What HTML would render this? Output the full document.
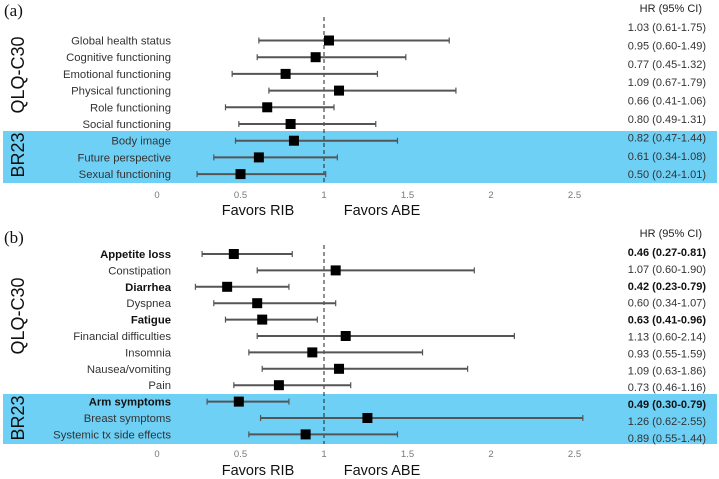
<!DOCTYPE html>
<html><head><meta charset="utf-8"><style>
html,body{margin:0;padding:0;background:#fff;}
svg{display:block;font-family:"Liberation Sans",Arial,sans-serif;}
</style></head><body>
<svg id="chart" width="719" height="479" viewBox="0 0 719 479" xmlns="http://www.w3.org/2000/svg"></svg>
<script>
const ticks=[0,0.5,1,1.5,2,2.5];
const aLabels=["Global health status","Cognitive functioning","Emotional functioning","Physical functioning","Role functioning","Social functioning","Body image","Future perspective","Sexual functioning"];
const aHR=[1.03,0.95,0.77,1.09,0.66,0.80,0.82,0.61,0.50];
const aLo=[0.61,0.60,0.45,0.67,0.41,0.49,0.47,0.34,0.24];
const aHi=[1.75,1.49,1.32,1.79,1.06,1.31,1.44,1.08,1.01];
const aBold=[0,0,0,0,0,0,0,0,0];
const bLabels=["Appetite loss","Constipation","Diarrhea","Dyspnea","Fatigue","Financial difficulties","Insomnia","Nausea/vomiting","Pain","Arm symptoms","Breast symptoms","Systemic tx side effects"];
const bHR=[0.46,1.07,0.42,0.60,0.63,1.13,0.93,1.09,0.73,0.49,1.26,0.89];
const bLo=[0.27,0.60,0.23,0.34,0.41,0.60,0.55,0.63,0.46,0.30,0.62,0.55];
const bHi=[0.81,1.90,0.79,1.07,0.96,2.14,1.59,1.86,1.16,0.79,2.55,1.44];
const bBold=[1,0,1,0,1,0,0,0,0,1,0,0];

const svg=document.getElementById('chart');
const NS='http://www.w3.org/2000/svg';
function x(v){return 157+v*167;}
function mk(tag,attrs,parent){const e=document.createElementNS(NS,tag);for(const k in attrs)e.setAttribute(k,attrs[k]);(parent||svg).appendChild(e);return e;}
function txt(s,attrs,parent){const e=mk('text',attrs,parent);e.textContent=s;return e;}
function fmt(v){return v.toFixed(2);}

function panel(cfg){
  const g=mk('g',{});
  
  
  const band=mk('rect',{x:3,y:cfg.bandTop,width:714,height:cfg.bandBot-cfg.bandTop,fill:'#6fd0f5'},g);
  
  
  const tag=txt(cfg.tag,{x:4,y:cfg.tagY,'font-family':'Liberation Serif, serif','font-size':17,fill:'#111'},g);
  
  
  const q=txt('QLQ-C30',{x:0,y:0,'font-size':18,fill:'#111','text-anchor':'middle',transform:`translate(24,${cfg.qY}) rotate(-90)`},g);
  
  
  const br=txt('BR23',{x:0,y:0,'font-size':18,fill:'#111','text-anchor':'middle',transform:`translate(24,${cfg.bY}) rotate(-90)`},g);
  
  
  const ref=mk('line',{x1:x(1),x2:x(1),y1:cfg.refTop,y2:cfg.bandBot,stroke:'#222','stroke-width':1,'stroke-dasharray':'4,3'},g);
  
  
  ticks.forEach(t=>{
    const e=txt(String(t),{x:x(t),y:cfg.tickY,'font-size':9.5,fill:'#777','text-anchor':'middle'},g);
    
    
  });
  const f1=txt('Favors  RIB',{x:258,y:cfg.favY,'font-size':14.5,fill:'#111','text-anchor':'middle'},g);
  
  
  const f2=txt('Favors  ABE',{x:382,y:cfg.favY,'font-size':14.5,fill:'#111','text-anchor':'middle'},g);
  
  
  const h=txt('HR (95% CI)',{x:702,y:cfg.hrY,'font-size':11,fill:'#222','text-anchor':'end'},g);
  
  
  cfg.labels.forEach((lab,i)=>{
    const y=cfg.rowY0+i*cfg.rowStep;
    const vy=cfg.valY0+i*cfg.valStep;
    const b=cfg.bold[i];
    const l=txt(lab,{x:171,y:y+4,'font-size':11.3,fill:b?'#111':'#333','font-weight':b?'bold':'normal','text-anchor':'end'},g);
    
    
    const ci=mk('line',{x1:x(cfg.lo[i]),x2:x(cfg.hi[i]),y1:y,y2:y,stroke:'#555','stroke-width':2},g);
    
    
    [cfg.lo[i],cfg.hi[i]].forEach(v=>{
      const c=mk('line',{x1:x(v),x2:x(v),y1:y-3,y2:y+3,stroke:'#555','stroke-width':1.2},g);
      
      
    });
    const m=mk('rect',{x:x(cfg.hr[i])-5,y:y-5,width:10,height:10,fill:'#000'},g);
    
    
    const v=txt(`${fmt(cfg.hr[i])} (${fmt(cfg.lo[i])}-${fmt(cfg.hi[i])})`,{x:706,y:vy+4,'font-size':11,fill:b?'#111':'#333','font-weight':b?'bold':'normal','text-anchor':'end'},g);
    
    
  });
}
panel({name:'panel-a',tag:'(a)',tagY:16,labels:aLabels,hr:aHR,lo:aLo,hi:aHi,bold:aBold,
  rowY0:40.5,rowStep:16.7,valY0:27,valStep:18.4,bandTop:131,bandBot:183,refTop:17,
  qY:75,bY:155,tickY:198,favY:215,hrY:12});
panel({name:'panel-b',tag:'(b)',tagY:243,labels:bLabels,hr:bHR,lo:bLo,hi:bHi,bold:bBold,
  rowY0:254,rowStep:16.4,valY0:252,valStep:16.9,bandTop:394,bandBot:444,refTop:245,
  qY:316,bY:418,tickY:457,favY:475,hrY:237});
</script>
</body></html>
